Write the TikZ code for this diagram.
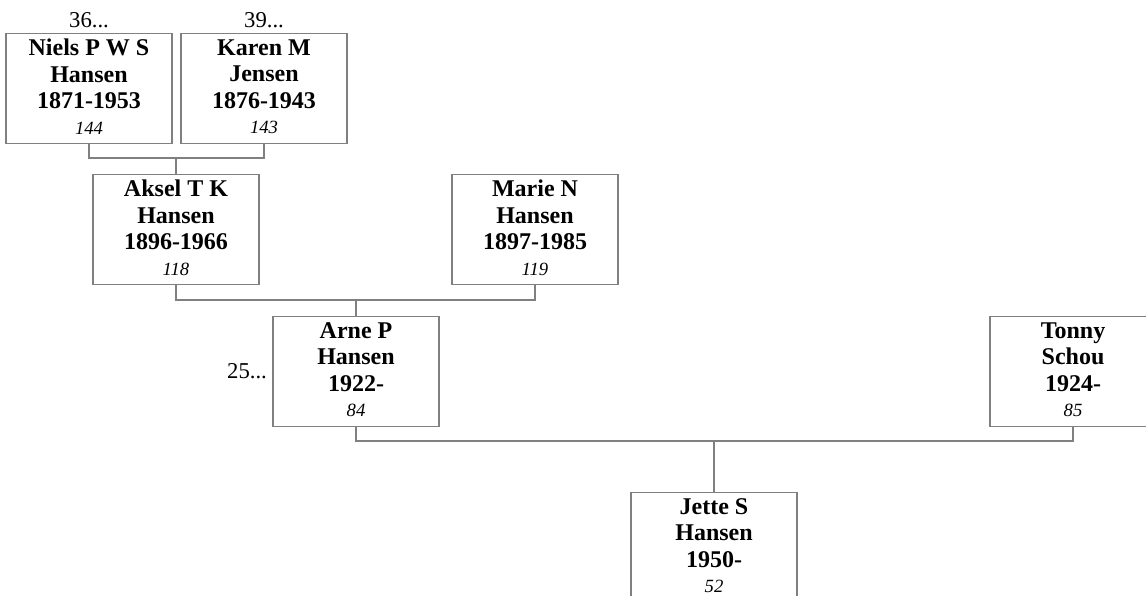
\documentclass[tikz,border=0pt]{standalone}
\usepackage{fontspec}
\setmainfont{Liberation Serif}
\usetikzlibrary{positioning}
\newcommand{\numero}[1]{{\fontsize{14}{16}\selectfont\mdseries\itshape #1}\rule[-3pt]{0pt}{0pt}}

\begin{document}
\begin{tikzpicture}[x=0.75pt, y=-0.75pt, every node/.style={align=center},
  persona/.style={draw=black!50, line width=0.8pt, minimum width=124.5pt, minimum height=82.5pt, anchor=north, inner sep=0pt, font=\fontsize{18}{20}\selectfont\bfseries},
  ref/.style={font=\fontsize{17}{20}\selectfont, inner sep=1pt},
  linea/.style={draw=black!50, line width=0.8pt}]
\path[use as bounding box, clip] (0,0) rectangle (1146,596);
\node[persona] (niels) at (89,33) {Niels P W S\\Hansen\\1871-1953\\[-1pt]\numero{144}};
\node[persona] (karen) at (264,33) {Karen M\\Jensen\\1876-1943\\[-1pt]\numero{143}};
\node[persona] (aksel) at (176,174) {Aksel T K\\Hansen\\1896-1966\\[-1pt]\numero{118}};
\node[persona] (marie) at (535,174) {Marie N\\Hansen\\1897-1985\\[-1pt]\numero{119}};
\node[persona] (arne) at (356,316) {Arne P\\Hansen\\1922-\\[-1pt]\numero{84}};
\node[persona] (tonny) at (1073,316) {Tonny\\Schou\\1924-\\[-1pt]\numero{85}};
\node[persona] (jette) at (714,492) {Jette S\\Hansen\\1950-\\[-1pt]\numero{52}};
\node[ref, above=2.5pt of niels] (n36) {36...};
\node[ref, above=2.5pt of karen] (n39) {39...};
\node[ref, left=3pt of arne] (n25) {25...};
\coordinate (u1) at (176,158); \coordinate (u2) at (356,300); \coordinate (u3) at (714,441);
\draw[linea] (niels.south) |- (u1) -| (karen.south); \draw[linea] (u1) -- (aksel.north);
\draw[linea] (aksel.south) |- (u2) -| (marie.south); \draw[linea] (u2) -- (arne.north);
\draw[linea] (arne.south) |- (u3) -| (tonny.south); \draw[linea] (u3) -- (jette.north);
\end{tikzpicture}
\end{document}
